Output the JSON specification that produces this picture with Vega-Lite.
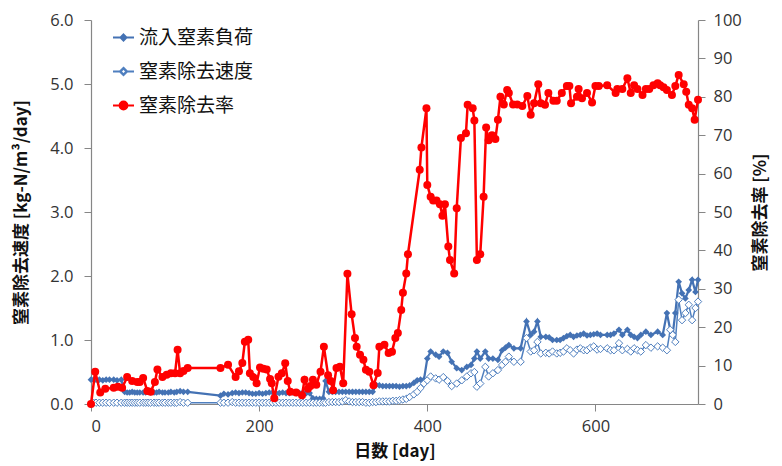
{
  "$schema": "https://vega.github.io/schema/vega-lite/v6.json",
  "width": 607,
  "height": 384,
  "autosize": {"type": "none"},
  "padding": {"left": 91, "top": 20, "right": 84, "bottom": 62},
  "background": "white",
  "config": {
    "view": {"stroke": null},
    "font": "Noto Sans CJK JP",
    "axis": {
      "grid": false,
      "domainColor": "#868686",
      "tickColor": "#868686",
      "domainWidth": 1.2,
      "labelFont": "Open Sans",
      "labelFontSize": 16.5,
      "labelColor": "#333333",
      "titleFont": "Noto Sans CJK JP",
      "titleFontSize": 17,
      "titleFontWeight": "bold",
      "titleColor": "#111111",
      "tickSize": 7
    }
  },
  "datasets": {
    "blue": [
      {"d":0,"load":0.38,"rem":0.0},{"d":3,"load":0.38,"rem":0.02},{"d":6,"load":0.38,"rem":0.02},{"d":10,"load":0.38,"rem":0.02},{"d":14,"load":0.37,"rem":0.02},{"d":18,"load":0.38,"rem":0.02},{"d":22,"load":0.38,"rem":0.02},{"d":27,"load":0.38,"rem":0.02},{"d":31,"load":0.37,"rem":0.02},{"d":36,"load":0.38,"rem":0.02},
      {"d":40,"load":0.19,"rem":0.02},{"d":43,"load":0.18,"rem":0.02},{"d":46,"load":0.18,"rem":0.02},{"d":49,"load":0.19,"rem":0.02},{"d":52,"load":0.18,"rem":0.02},{"d":55,"load":0.18,"rem":0.02},{"d":58,"load":0.18,"rem":0.02},{"d":62,"load":0.18,"rem":0.02},{"d":65,"load":0.18,"rem":0.02},{"d":68,"load":0.19,"rem":0.02},
      {"d":71,"load":0.18,"rem":0.02},{"d":75,"load":0.18,"rem":0.02},{"d":78,"load":0.18,"rem":0.02},{"d":81,"load":0.19,"rem":0.02},{"d":85,"load":0.18,"rem":0.02},{"d":88,"load":0.18,"rem":0.02},{"d":92,"load":0.18,"rem":0.02},{"d":95,"load":0.19,"rem":0.02},{"d":99,"load":0.18,"rem":0.02},{"d":102,"load":0.19,"rem":0.02},
      {"d":106,"load":0.2,"rem":0.03},{"d":110,"load":0.19,"rem":0.02},{"d":115,"load":0.19,"rem":0.02},{"d":154,"load":0.13,"rem":0.02},{"d":158,"load":0.16,"rem":0.02},{"d":163,"load":0.15,"rem":0.02},{"d":168,"load":0.17,"rem":0.03},{"d":172,"load":0.18,"rem":0.02},{"d":176,"load":0.17,"rem":0.02},{"d":180,"load":0.18,"rem":0.02},
      {"d":184,"load":0.18,"rem":0.02},{"d":188,"load":0.17,"rem":0.02},{"d":192,"load":0.16,"rem":0.02},{"d":196,"load":0.16,"rem":0.02},{"d":200,"load":0.17,"rem":0.02},{"d":204,"load":0.16,"rem":0.02},{"d":208,"load":0.17,"rem":0.02},{"d":212,"load":0.18,"rem":0.02},{"d":216,"load":0.18,"rem":0.02},{"d":220,"load":0.17,"rem":0.02},
      {"d":224,"load":0.17,"rem":0.02},{"d":228,"load":0.18,"rem":0.02},{"d":232,"load":0.17,"rem":0.02},{"d":236,"load":0.17,"rem":0.02},{"d":240,"load":0.18,"rem":0.02},{"d":244,"load":0.17,"rem":0.02},{"d":248,"load":0.17,"rem":0.02},{"d":252,"load":0.18,"rem":0.02},{"d":256,"load":0.17,"rem":0.02},{"d":260,"load":0.17,"rem":0.02},
      {"d":264,"load":0.09,"rem":0.02},{"d":268,"load":0.08,"rem":0.02},{"d":272,"load":0.08,"rem":0.02},{"d":276,"load":0.09,"rem":0.02},{"d":279,"load":0.36,"rem":0.02},{"d":283,"load":0.19,"rem":0.03},{"d":287,"load":0.19,"rem":0.03},{"d":291,"load":0.19,"rem":0.03},{"d":295,"load":0.19,"rem":0.03},{"d":299,"load":0.19,"rem":0.04},
      {"d":303,"load":0.19,"rem":0.06},{"d":307,"load":0.19,"rem":0.04},{"d":311,"load":0.19,"rem":0.03},{"d":315,"load":0.19,"rem":0.03},{"d":319,"load":0.19,"rem":0.03},{"d":323,"load":0.19,"rem":0.03},{"d":327,"load":0.19,"rem":0.02},{"d":331,"load":0.19,"rem":0.02},{"d":335,"load":0.19,"rem":0.03},{"d":339,"load":0.3,"rem":0.03},
      {"d":343,"load":0.29,"rem":0.04},{"d":347,"load":0.28,"rem":0.04},{"d":351,"load":0.28,"rem":0.04},{"d":355,"load":0.28,"rem":0.04},{"d":359,"load":0.28,"rem":0.05},{"d":363,"load":0.28,"rem":0.05},{"d":367,"load":0.27,"rem":0.06},{"d":371,"load":0.28,"rem":0.07},{"d":375,"load":0.28,"rem":0.08},{"d":379,"load":0.29,"rem":0.11},
      {"d":384,"load":0.33,"rem":0.15},{"d":388,"load":0.37,"rem":0.19},{"d":392,"load":0.38,"rem":0.25},{"d":396,"load":0.38,"rem":0.32},{"d":400,"load":0.71,"rem":0.37},{"d":404,"load":0.82,"rem":0.43},{"d":410,"load":0.77,"rem":0.4},{"d":414,"load":0.74,"rem":0.38},{"d":419,"load":0.82,"rem":0.42},{"d":424,"load":0.8,"rem":0.36},
      {"d":429,"load":0.66,"rem":0.28},{"d":435,"load":0.56,"rem":0.32},{"d":441,"load":0.53,"rem":0.37},{"d":447,"load":0.58,"rem":0.43},{"d":452,"load":0.61,"rem":0.48},{"d":456,"load":0.71,"rem":0.5},{"d":459,"load":0.82,"rem":0.27},{"d":463,"load":0.71,"rem":0.32},{"d":469,"load":0.82,"rem":0.58},{"d":473,"load":0.71,"rem":0.43},
      {"d":478,"load":0.71,"rem":0.48},{"d":484,"load":0.69,"rem":0.53},{"d":489,"load":0.84,"rem":0.61},{"d":493,"load":0.88,"rem":0.66},{"d":497,"load":0.92,"rem":0.74},{"d":503,"load":0.87,"rem":0.66},{"d":511,"load":0.87,"rem":0.66},{"d":518,"load":1.29,"rem":1.03},{"d":523,"load":1.08,"rem":0.82},{"d":527,"load":1.13,"rem":0.84},
      {"d":531,"load":1.29,"rem":0.97},{"d":535,"load":1.05,"rem":0.79},{"d":541,"load":1.05,"rem":0.8},{"d":545,"load":1.04,"rem":0.79},{"d":549,"load":1.0,"rem":0.82},{"d":554,"load":1.0,"rem":0.79},{"d":558,"load":1.0,"rem":0.8},{"d":562,"load":1.03,"rem":0.82},{"d":566,"load":1.06,"rem":0.87},{"d":570,"load":1.08,"rem":0.84},
      {"d":574,"load":1.05,"rem":0.79},{"d":578,"load":1.07,"rem":0.85},{"d":582,"load":1.08,"rem":0.87},{"d":586,"load":1.1,"rem":0.84},{"d":590,"load":1.07,"rem":0.84},{"d":594,"load":1.08,"rem":0.88},{"d":598,"load":1.09,"rem":0.9},{"d":602,"load":1.1,"rem":0.85},{"d":606,"load":1.08,"rem":0.86},{"d":614,"load":1.08,"rem":0.87},
      {"d":618,"load":1.08,"rem":0.84},{"d":622,"load":1.1,"rem":0.84},{"d":628,"load":1.16,"rem":0.95},{"d":632,"load":1.08,"rem":0.84},{"d":638,"load":1.16,"rem":0.86},{"d":642,"load":1.08,"rem":0.82},{"d":646,"load":1.05,"rem":0.87},{"d":650,"load":1.03,"rem":0.84},{"d":654,"load":1.08,"rem":0.82},{"d":660,"load":1.13,"rem":0.92},
      {"d":666,"load":1.08,"rem":0.88},{"d":674,"load":1.13,"rem":0.9},{"d":680,"load":1.08,"rem":0.88},{"d":685,"load":1.42,"rem":0.84},{"d":689,"load":1.16,"rem":1.16},{"d":692,"load":1.1,"rem":1.08},{"d":695,"load":1.42,"rem":0.97},{"d":699,"load":1.91,"rem":1.63},{"d":703,"load":1.73,"rem":1.31},{"d":707,"load":1.65,"rem":1.42},
      {"d":711,"load":1.78,"rem":1.55},{"d":715,"load":1.94,"rem":1.31},{"d":719,"load":1.75,"rem":1.5},{"d":722,"load":1.94,"rem":1.6}
    ],
    "red": [
      {"d":0,"eff":0},{"d":5,"eff":8.4},{"d":11,"eff":3.0},{"d":17,"eff":4.0},{"d":27,"eff":4.2},{"d":32,"eff":4.5},{"d":37,"eff":4.2},{"d":43,"eff":7.0},{"d":49,"eff":6.0},{"d":55,"eff":5.7},
      {"d":58,"eff":5.7},{"d":62,"eff":6.8},{"d":67,"eff":3.4},{"d":71,"eff":3.2},{"d":76,"eff":5.7},{"d":79,"eff":9.0},{"d":85,"eff":7.0},{"d":90,"eff":7.6},{"d":95,"eff":8.0},{"d":100,"eff":8.0},
      {"d":103,"eff":14.1},{"d":106,"eff":8.0},{"d":110,"eff":8.6},{"d":115,"eff":9.4},{"d":154,"eff":9.4},{"d":163,"eff":10.2},{"d":172,"eff":7.0},{"d":176,"eff":8.5},{"d":180,"eff":10.7},{"d":183,"eff":16.2},
      {"d":187,"eff":16.7},{"d":189,"eff":8.0},{"d":193,"eff":7.0},{"d":197,"eff":5.4},{"d":201,"eff":9.5},{"d":205,"eff":9.2},{"d":209,"eff":9.0},{"d":213,"eff":6.5},{"d":215,"eff":5.4},{"d":218,"eff":1.5},
      {"d":223,"eff":7.1},{"d":227,"eff":8.0},{"d":231,"eff":10.6},{"d":234,"eff":6.0},{"d":237,"eff":3.2},{"d":244,"eff":3.0},{"d":251,"eff":2.3},{"d":254,"eff":6.3},{"d":258,"eff":4.0},{"d":261,"eff":4.7},
      {"d":264,"eff":6.3},{"d":268,"eff":5.0},{"d":273,"eff":8.4},{"d":277,"eff":14.9},{"d":282,"eff":7.5},{"d":285,"eff":6.0},{"d":288,"eff":3.6},{"d":292,"eff":9.4},{"d":296,"eff":9.7},{"d":300,"eff":5.4},
      {"d":305,"eff":33.9},{"d":310,"eff":23.4},{"d":314,"eff":17.2},{"d":316,"eff":14.9},{"d":320,"eff":12.8},{"d":324,"eff":11.5},{"d":327,"eff":8.9},{"d":331,"eff":8.4},{"d":336,"eff":4.9},{"d":341,"eff":8.1},
      {"d":343,"eff":14.9},{"d":349,"eff":15.4},{"d":354,"eff":13.3},{"d":358,"eff":13.6},{"d":362,"eff":17.2},{"d":365,"eff":18.5},{"d":369,"eff":24.5},{"d":371,"eff":29},{"d":375,"eff":34},{"d":377,"eff":39},
      {"d":391,"eff":61},{"d":393,"eff":66.8},{"d":399,"eff":77},{"d":400,"eff":57},{"d":404,"eff":54},{"d":407,"eff":53},{"d":411,"eff":53},{"d":415,"eff":52},{"d":418,"eff":49},{"d":421,"eff":52},
      {"d":425,"eff":41},{"d":427,"eff":37.5},{"d":432,"eff":34},{"d":435,"eff":51},{"d":440,"eff":69.3},{"d":446,"eff":70.5},{"d":448,"eff":77.9},{"d":454,"eff":77},{"d":456,"eff":73.8},{"d":459,"eff":37.5},
      {"d":463,"eff":39},{"d":467,"eff":54},{"d":470,"eff":72},{"d":473,"eff":68.7},{"d":477,"eff":70},{"d":481,"eff":69},{"d":484,"eff":74},{"d":487,"eff":80},{"d":491,"eff":78},{"d":495,"eff":81.8},
      {"d":497,"eff":81},{"d":502,"eff":78},{"d":507,"eff":78},{"d":513,"eff":77.6},{"d":519,"eff":80.2},{"d":523,"eff":75.3},{"d":527,"eff":78.3},{"d":532,"eff":83.3},{"d":535,"eff":78.3},{"d":540,"eff":77.9},
      {"d":544,"eff":81},{"d":550,"eff":79},{"d":554,"eff":79},{"d":560,"eff":81},{"d":566,"eff":82.8},{"d":569,"eff":82.8},{"d":571,"eff":78.3},{"d":578,"eff":80},{"d":580,"eff":82},{"d":584,"eff":79.6},
      {"d":590,"eff":81},{"d":596,"eff":78.5},{"d":600,"eff":82.8},{"d":604,"eff":82.8},{"d":614,"eff":83},{"d":624,"eff":81},{"d":626,"eff":82},{"d":632,"eff":82},{"d":638,"eff":84.8},{"d":642,"eff":81},
      {"d":646,"eff":83},{"d":650,"eff":82},{"d":656,"eff":80.5},{"d":660,"eff":82},{"d":664,"eff":82},{"d":669,"eff":83},{"d":674,"eff":83.5},{"d":677,"eff":83},{"d":681,"eff":82.5},{"d":685,"eff":81.8},
      {"d":691,"eff":80.5},{"d":695,"eff":82.8},{"d":699,"eff":85.7},{"d":705,"eff":83.3},{"d":708,"eff":81.3},{"d":711,"eff":77.9},{"d":715,"eff":77},{"d":718,"eff":74},{"d":722,"eff":79.2}
    ]
  },
  "layer": [
    {
      "data": {"name": "blue"},
      "encoding": {
        "x": {"field": "d", "type": "quantitative", "scale": {"domain": [0, 722], "nice": false},
          "axis": {"values": [0, 200, 400, 600], "title": "日数 [day]", "labelPadding": 7, "titlePadding": 9}}
      },
      "layer": [
        {
          "mark": {"type": "line", "strokeWidth": 2.25},
          "encoding": {
            "y": {"field": "load", "type": "quantitative", "scale": {"domain": [0, 6], "nice": false},
              "axis": {"values": [0, 1, 2, 3, 4, 5, 6], "format": ".1f", "title": "窒素除去速度 [kg-N/m³/day]", "labelPadding": 11, "titlePadding": 19}},
            "color": {"datum": "流入窒素負荷", "type": "nominal",
              "scale": {"domain": ["流入窒素負荷", "窒素除去速度", "窒素除去率"], "range": ["#4472B4", "#4F7FBF", "#FF0000"]},
              "legend": {
                "orient": "none", "legendX": 21, "legendY": 6, "title": null, "padding": 0,
                "labelFont": "Noto Sans CJK JP", "labelFontSize": 19, "labelColor": "#111111",
                "symbolSize": 441, "rowPadding": 12, "labelOffset": 4, "symbolStrokeWidth": 1.8,
                "encode": {
                  "symbols": {
                    "update": {
                      "shape": {"signal": "datum.index === 2 ? 'M-1,0H1M-0.38,0A0.38,0.38 0 1,0 0.38,0A0.38,0.38 0 1,0 -0.38,0Z' : (datum.index === 1 ? 'M-1,0H-0.36M0.36,0H1M0,-0.36L0.36,0L0,0.36L-0.36,0ZM0,-0.27L-0.27,0L0,0.27L0.27,0Z' : 'M-1,0H1M0,-0.3L0.3,0L0,0.3L-0.3,0Z')"},
                      "opacity": {"value": 1},
                      "fillOpacity": {"value": 1}
                    }
                  }
                }
              }
            }
          }
        },
        {
          "mark": {"type": "line", "strokeWidth": 1.5},
          "encoding": {
            "y": {"field": "rem", "type": "quantitative"},
            "color": {"datum": "窒素除去速度", "type": "nominal"}
          }
        },
        {
          "mark": {"type": "point", "shape": "diamond", "size": 45, "filled": true, "opacity": 1},
          "encoding": {
            "y": {"field": "load", "type": "quantitative"},
            "color": {"datum": "流入窒素負荷", "type": "nominal"}
          }
        },
        {
          "mark": {"type": "point", "shape": "diamond", "size": 55, "filled": false, "fill": "#ffffff", "strokeWidth": 1, "opacity": 1},
          "encoding": {
            "y": {"field": "rem", "type": "quantitative"},
            "color": {"datum": "窒素除去速度", "type": "nominal"}
          }
        }
      ]
    },
    {
      "data": {"name": "red"},
      "encoding": {
        "x": {"field": "d", "type": "quantitative"},
        "y": {"field": "eff", "type": "quantitative", "scale": {"domain": [0, 100], "nice": false},
          "axis": {"orient": "right", "values": [0, 10, 20, 30, 40, 50, 60, 70, 80, 90, 100], "title": "窒素除去率 [%]", "titleAngle": 270, "labelPadding": 8, "titlePadding": 28}},
        "color": {"datum": "窒素除去率", "type": "nominal"}
      },
      "layer": [
        {"mark": {"type": "line", "strokeWidth": 2.5}},
        {"mark": {"type": "point", "shape": "circle", "size": 64, "filled": true, "opacity": 1}}
      ]
    }
  ],
  "resolve": {"scale": {"y": "independent"}}
}
